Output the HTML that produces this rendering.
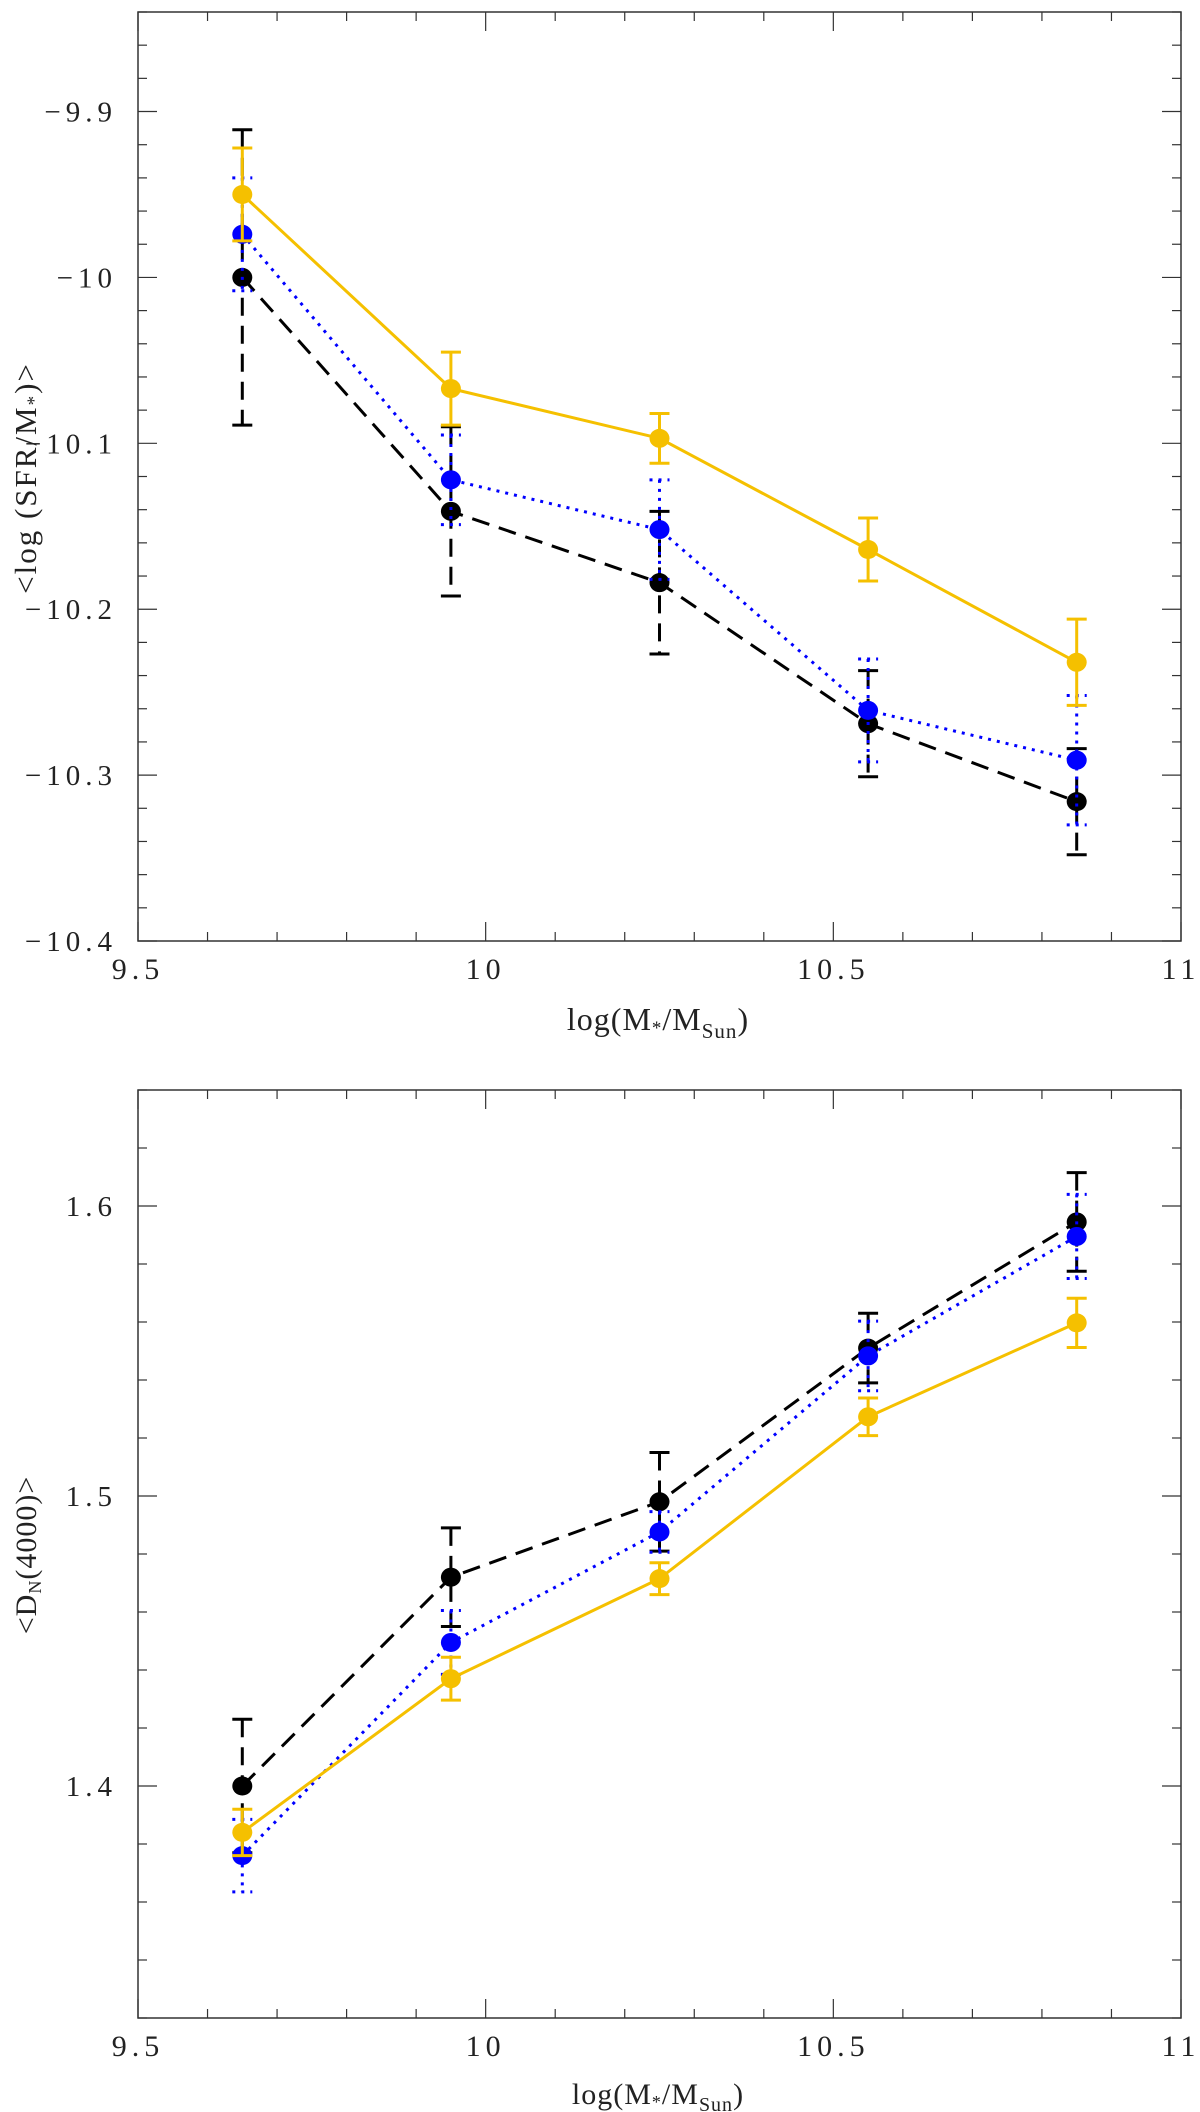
<!DOCTYPE html>
<html><head><meta charset="utf-8">
<style>
html,body{margin:0;padding:0;background:#fff;}
svg{display:block;}
text{font-family:"Liberation Serif",serif;fill:#222;}
</style></head>
<body>
<svg id="fig" width="1200" height="2112" viewBox="0 0 1200 2112" xmlns="http://www.w3.org/2000/svg">
  <g id="top"></g>
  <g id="bot"></g>
</svg>
<script>
const masses = [9.65, 9.95, 10.25, 10.55, 10.85];
const seriesNames = ['black', 'blue', 'orange'];
// Top panel: <log(SFR/M*)>
const ssfrBlack = [-10.0, -10.141, -10.184, -10.269, -10.316];
const ssfrBlackErr = [0.089, 0.051, 0.043, 0.032, 0.032];
const ssfrBlue = [-9.974, -10.122, -10.152, -10.261, -10.291];
const ssfrBlueErr = [0.034, 0.027, 0.030, 0.031, 0.039];
const ssfrOrange = [-9.950, -10.067, -10.097, -10.164, -10.232];
const ssfrOrangeErr = [0.028, 0.022, 0.015, 0.019, 0.026];
// Bottom panel: <Dn(4000)>
const dnBlack = [1.400, 1.472, 1.498, 1.551, 1.5945];
const dnBlackErr = [0.023, 0.017, 0.017, 0.012, 0.017];
const dnBlue = [1.376, 1.4495, 1.4876, 1.5483, 1.5895];
const dnBlueErr = [0.0125, 0.011, 0.007, 0.012, 0.0145];
const dnOrange = [1.384, 1.437, 1.4715, 1.5273, 1.5597];
const dnOrangeErr = [0.008, 0.0074, 0.0055, 0.0065, 0.0085];
const xTicks = ['9.5', '10', '10.5', '11'];
const topYTicks = ['−9.9', '−10', '−10.1', '−10.2', '−10.3', '−10.4'];
const botYTicks = ['1.4', '1.5', '1.6'];

const NS = 'http://www.w3.org/2000/svg';
function mk(parent, tag, attrs) {
  const e = document.createElementNS(NS, tag);
  for (const k in attrs) e.setAttribute(k, attrs[k]);
  parent.appendChild(e);
  return e;
}
const X0 = 138, X1 = 1181;
function xs(v) { return X0 + (v - 9.5) / 1.5 * (X1 - X0); }

function panel(g, top, bottom, ymin, ymax, yTickVals, yTickLabels, minorStep) {
  const ys = v => bottom - (v - ymin) / (ymax - ymin) * (bottom - top);
  const frame = mk(g, 'rect', {x: X0, y: top, width: X1 - X0, height: bottom - top, fill: 'none', stroke: '#333', 'stroke-width': 1.5});
  
  
  for (let i = 0; i <= 15; i++) {
    const v = 9.5 + i * 0.1, x = xs(v);
    const len = (i % 5 === 0) ? 19 : 9;
    mk(g, 'line', {x1: x, y1: bottom, x2: x, y2: bottom - len, stroke: '#333', 'stroke-width': 1.2});
    mk(g, 'line', {x1: x, y1: top, x2: x, y2: top + len, stroke: '#333', 'stroke-width': 1.2});
  }
  xTicks.forEach((t, i) => {
    const tx = mk(g, 'text', {x: xs(9.5 + i * 0.5), y: bottom + 38, 'text-anchor': 'middle', 'font-size': 30, 'letter-spacing': '5'});
    
    
    tx.textContent = t;
  });
  const n = Math.round((ymax - ymin) / minorStep);
  for (let i = 0; i <= n; i++) {
    const v = ymin + i * minorStep, y = ys(v);
    const major = yTickVals.some(t => Math.abs(t - v) < minorStep / 10);
    const len = major ? 19 : 9;
    mk(g, 'line', {x1: X0, y1: y, x2: X0 + len, y2: y, stroke: '#333', 'stroke-width': 1.2});
    mk(g, 'line', {x1: X1, y1: y, x2: X1 - len, y2: y, stroke: '#333', 'stroke-width': 1.2});
  }
  yTickVals.forEach((v, i) => {
    const t = mk(g, 'text', {x: 117, y: ys(v) + 10, 'text-anchor': 'end', 'font-size': 29, 'letter-spacing': '5'});
    
    
    t.textContent = yTickLabels[i];
  });
  return ys;
}

function series(g, ys, vals, errs, color, dash, width, name) {
  const sg = mk(g, 'g', {});
  
  
  const pts = masses.map((m, i) => xs(m) + ',' + ys(vals[i])).join(' ');
  const attrs = {points: pts, fill: 'none', stroke: color, 'stroke-width': width};
  if (dash) attrs['stroke-dasharray'] = dash;
  const line = mk(sg, 'polyline', attrs);
  
  
  masses.forEach((m, i) => {
    const x = xs(m), yt = ys(vals[i] + errs[i]), yb = ys(vals[i] - errs[i]);
    const ea = {stroke: color, 'stroke-width': width};
    if (dash) ea['stroke-dasharray'] = dash;
    const eb = mk(sg, 'line', Object.assign({x1: x, y1: yt, x2: x, y2: yb}, ea));
    
    
    const ca = {stroke: color, 'stroke-width': width};
    if (dash && dash.startsWith('3')) ca['stroke-dasharray'] = dash;
    mk(sg, 'line', Object.assign({x1: x - 10, y1: yt, x2: x + 10, y2: yt}, ca));
    mk(sg, 'line', Object.assign({x1: x - 10, y1: yb, x2: x + 10, y2: yb}, ca));
    const c = mk(sg, 'ellipse', {cx: x, cy: ys(vals[i]), rx: 10, ry: 9.5, fill: color});
    
    
  });
}

const gt = document.getElementById('top');
const ysT = panel(gt, 12, 941, -10.4, -9.84, [-9.9, -10, -10.1, -10.2, -10.3, -10.4], topYTicks, 0.02);
series(gt, ysT, ssfrBlack, ssfrBlackErr, '#000', '18 10', 3, 'ssfr-black-series');
series(gt, ysT, ssfrBlue, ssfrBlueErr, '#0000ff', '3 6', 3, 'ssfr-blue-series');
series(gt, ysT, ssfrOrange, ssfrOrangeErr, '#f5c000', null, 3, 'ssfr-orange-series');

const gb = document.getElementById('bot');
const ysB = panel(gb, 1090, 2018, 1.32, 1.64, [1.4, 1.5, 1.6], botYTicks, 0.02);
series(gb, ysB, dnBlack, dnBlackErr, '#000', '18 10', 3, 'dn-black-series');
series(gb, ysB, dnBlue, dnBlueErr, '#0000ff', '3 6', 3, 'dn-blue-series');
series(gb, ysB, dnOrange, dnOrangeErr, '#f5c000', null, 3, 'dn-orange-series');
</script>
<svg style="position:absolute;left:0;top:0" width="1200" height="2112">
  <text x="658" y="1030" text-anchor="middle" font-family="Liberation Serif, serif" font-size="32" fill="#222" letter-spacing="1">log(M<tspan font-size="19" dy="4">*</tspan><tspan dy="-4">/M</tspan><tspan font-size="21" dy="8">Sun</tspan><tspan dy="-8">)</tspan></text>
  <text x="0" y="0" text-anchor="middle" font-family="Liberation Serif, serif" font-size="31" fill="#222" letter-spacing="2" transform="translate(36,478) rotate(-90)">&lt;log (SFR/M<tspan font-size="19" dy="4">*</tspan><tspan dy="-4">)&gt;</tspan></text>
  <text x="658" y="2104" text-anchor="middle" font-family="Liberation Serif, serif" font-size="30" fill="#222" letter-spacing="1">log(M<tspan font-size="18" dy="4">*</tspan><tspan dy="-4">/M</tspan><tspan font-size="20" dy="7">Sun</tspan><tspan dy="-7">)</tspan></text>
  <text x="0" y="0" text-anchor="middle" font-family="Liberation Serif, serif" font-size="30" fill="#222" letter-spacing="1" transform="translate(36,1555) rotate(-90)">&lt;D<tspan font-size="18" dy="5">N</tspan><tspan dy="-5">(4000)&gt;</tspan></text>
</svg>
</body></html>
